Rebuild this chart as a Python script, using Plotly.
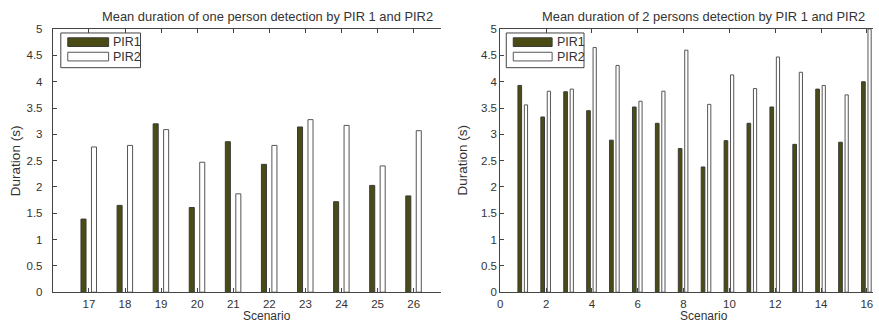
import plotly.graph_objects as go

# ---------------- data ----------------
left_scenarios = [17, 18, 19, 20, 21, 22, 23, 24, 25, 26]
left_pir1 = [1.39, 1.65, 3.20, 1.61, 2.86, 2.43, 3.14, 1.72, 2.03, 1.83]
left_pir2 = [2.76, 2.79, 3.09, 2.47, 1.87, 2.79, 3.28, 3.17, 2.40, 3.07]

right_scenarios = list(range(1, 17))
right_pir1 = [3.93, 3.33, 3.81, 3.45, 2.89, 3.52, 3.21, 2.73, 2.38, 2.88, 3.21, 3.52, 2.81, 3.86, 2.85, 4.00]
right_pir2 = [3.56, 3.82, 3.86, 4.65, 4.31, 3.63, 3.82, 4.60, 3.57, 4.13, 3.87, 4.47, 4.18, 3.93, 3.75, 5.00]

series_names = ["PIR1", "PIR2"]
y_ticks = [0, 0.5, 1, 1.5, 2, 2.5, 3, 3.5, 4, 4.5, 5]
right_xticks = [0, 2, 4, 6, 8, 10, 12, 14, 16]

left_title = "Mean duration of one person detection by PIR 1 and PIR2"
right_title = "Mean duration of 2 persons detection by PIR 1 and PIR2"
x_title = "Scenario"
y_title = "Duration (s)"

# ---------------- style ----------------
W, H = 879, 330
OLIVE = "#4b4b14"
EDGE = "#3a3a3a"
AX = "#444444"
TXT = "#333333"
FONT = "Liberation Sans"

def px(x):
    return x / W

def py(y):
    return (H - y) / H

fig = go.Figure()

# left chart bars
fig.add_bar(x=left_scenarios, y=left_pir1, width=0.14, offset=-0.22,
            marker=dict(color=OLIVE, line=dict(color=EDGE, width=1)),
            name=series_names[0], showlegend=False, xaxis="x", yaxis="y")
fig.add_bar(x=left_scenarios, y=left_pir2, width=0.14, offset=0.07,
            marker=dict(color="white", line=dict(color="#555555", width=1)),
            name=series_names[1], showlegend=False, xaxis="x", yaxis="y")

# right chart bars
fig.add_bar(x=right_scenarios, y=right_pir1, width=0.16, offset=-0.23,
            marker=dict(color=OLIVE, line=dict(color=EDGE, width=1)),
            name=series_names[0], showlegend=False, xaxis="x2", yaxis="y2")
fig.add_bar(x=right_scenarios, y=right_pir2, width=0.14, offset=0.05,
            marker=dict(color="white", line=dict(color="#555555", width=1)),
            name=series_names[1], showlegend=False, xaxis="x2", yaxis="y2")

axis_common = dict(showline=True, linecolor=AX, linewidth=1, ticks="inside",
                   ticklen=4, tickcolor=AX, showgrid=False, zeroline=False,
                   tickfont=dict(family=FONT, size=11.5, color=TXT))

ydom = [py(297), py(24)]

fig.update_layout(
    width=W, height=H,
    margin=dict(l=0, r=0, t=0, b=0),
    paper_bgcolor="white", plot_bgcolor="white",
    barmode="overlay",
    showlegend=False,
    xaxis=dict(domain=[px(50), px(440)], range=[16, 26.77], tickvals=left_scenarios,
               mirror="ticks", anchor="y", ticklabelstandoff=1, **axis_common),
    yaxis=dict(domain=ydom, range=[0, 5], tickvals=y_ticks, anchor="x",
               ticklabelstandoff=7, **axis_common),
    xaxis2=dict(domain=[px(499), px(873)], range=[0, 16.27], tickvals=right_xticks,
                mirror="ticks", anchor="y2", ticklabelstandoff=1, **axis_common),
    yaxis2=dict(domain=ydom, range=[0, 5], tickvals=y_ticks, anchor="x2",
                ticklabelstandoff=0, **axis_common),
)

annotations = []
def txt(x, y, s, size=11, angle=0, xanchor="center"):
    annotations.append(dict(x=px(x), y=py(y), xref="paper", yref="paper", text=s,
                            showarrow=False, xanchor=xanchor, yanchor="middle",
                            textangle=angle,
                            font=dict(family=FONT, size=size, color=TXT)))

# titles
txt(265, 11, left_title, size=12.9)
txt(703, 11, right_title, size=12.9)
txt(265, 322, x_title, size=12)
txt(703, 322, x_title, size=12)
txt(12, 160, y_title, size=13.5, angle=-90)
txt(461, 160, y_title, size=13.5, angle=-90)

shapes = []
def rect(x0, y0, x1, y1, fill, line, lw=1):
    shapes.append(dict(type="rect", xref="paper", yref="paper",
                       x0=px(x0), x1=px(x1), y0=py(y1), y1=py(y0),
                       fillcolor=fill, line=dict(color=line, width=lw)))

# legends
for (bx0, sx0, sx1, tx, bx1) in [(58, 65, 106, 108, 138), (505, 512, 551, 554, 583)]:
    rect(bx0, 28, bx1, 64, "white", AX)
    rect(sx0, 33, sx1, 42, OLIVE, EDGE)
    rect(sx0, 48, sx1, 57, "white", "#555555")
    txt(tx, 37.5, series_names[0], size=12.5, xanchor="left")
    txt(tx, 52.5, series_names[1], size=12.5, xanchor="left")

fig.update_layout(annotations=annotations, shapes=shapes)

fig.write_html("out.html")
